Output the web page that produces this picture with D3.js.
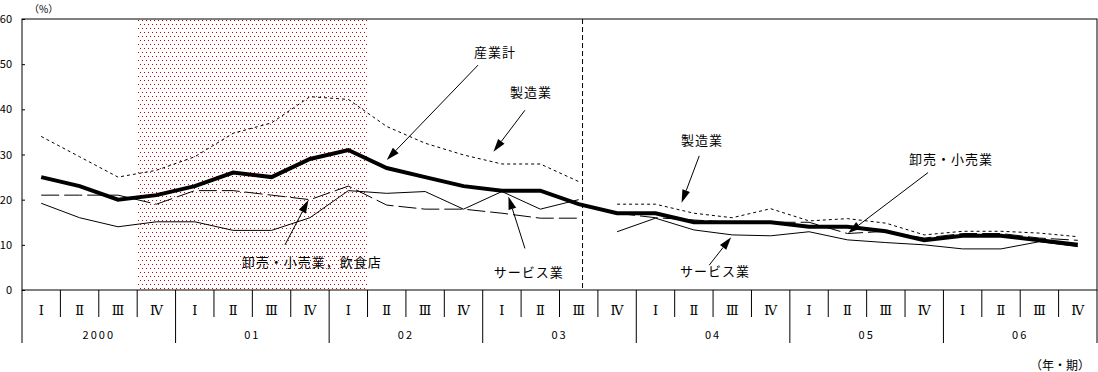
<!DOCTYPE html>
<html>
<head>
<meta charset="utf-8">
<script src="https://cdnjs.cloudflare.com/ajax/libs/d3/7.8.5/d3.min.js"></script>
<style>
  body { margin: 0; background: #fff; }
  svg text { font-family: "Noto Sans CJK JP", "Noto Sans", sans-serif; fill: #000; }
</style>
</head>
<body>
<div id="chart"></div>
<script>
// 2000年I期～2006年IV期, 四半期ごとの値 (%)
const quarterLabels = ['Ⅰ', 'Ⅱ', 'Ⅲ', 'Ⅳ'];
const yearLabels = ['2000', '01', '02', '03', '04', '05', '06'];
const yTicks = [0, 10, 20, 30, 40, 50, 60];

// 産業計 (全期間連続)
const total = [25, 23, 20, 21, 23, 26, 25, 29, 31, 27, 25, 23, 22, 22, 19,
               17, 17, 15, 15, 15, 14, 14, 13, 11, 12, 12, 11, 10];
// 製造業 (03年III期まで / 03年IV期から)
const manufOld = [34, 29.5, 25, 26.5, 29.5, 34.7, 37, 42.8, 42.2, 36.2, 32.5, 29.9, 27.9, 27.9, 24];
const manufNew = [19, 19, 17, 16, 18, 15.3, 15.8, 14.8, 12.2, 13, 13, 12.6, 11.8];
// 卸売・小売業，飲食店 (旧分類) / 卸売・小売業 (新分類)
const tradeFoodOld = [21, 21, 21, 19, 22, 22, 21, 20, 23, 18.8, 17.9, 17.9, 17, 15.9, 15.9];
const tradeNew = [17, 16, 15.5, 15, 15, 15, 12.5, 13, 11.5, 12.5, 12.5, 11.5, 11];
// サービス業
const servOld = [19.2, 16, 14, 15.1, 15.1, 13.2, 13.2, 16, 22, 21.4, 21.8, 17.9, 21.8, 17.9, 20];
const servNew = [12.9, 15.9, 13.3, 12.2, 12, 12.9, 11.1, 10.5, 10, 9.1, 9.1, 10.7, 9.6];

const breakIndex = 15;            // 新旧分類の切れ目
const shadeFrom = 3, shadeTo = 9; // 景気後退期 (2000年IV期～02年I期)

// 注記: [文字, 文字位置(四半期, 値), 矢印始点, 矢印先端]
const notes = [
  ['産業計', [12.32, 52.7], [11.88, 49.8], [9.5, 28.8]],
  ['製造業', [13.26, 43.8], [13.1, 39.8], [12.28, 30.6]],
  ['製造業', [17.71, 33.2], [17.64, 29.7], [17.18, 19.3]],
  ['卸売・小売業，飲食店', [7.55, 6.1], [6.85, 10], [7.46, 19.9]],
  ['サービス業', [13.2, 3.8], [13.1, 9.2], [12.67, 20.7]],
  ['サービス業', [18.05, 4], [17.9, 5.5], [18.47, 11.7]],
  ['卸売・小売業', [24.2, 29], [23.6, 26], [21.52, 12.6]]
];

(function() {
  const W = 1098, H = 372;
  const left = 22, right = 1097, top = 19, bottom = 290;
  const nQ = quarterLabels.length * yearLabels.length;

  const svg = d3.select('#chart').append('svg')
    .attr('width', W).attr('height', H);

  const x = d3.scaleLinear().domain([0, nQ]).range([left, right]);
  const y = d3.scaleLinear().domain([0, 60]).range([bottom, top]);

  // dotted shading pattern
  const pat = svg.append('defs').append('pattern')
    .attr('id', 'dots').attr('width', 4).attr('height', 8)
    .attr('patternUnits', 'userSpaceOnUse');
  pat.append('rect').attr('x', 0).attr('y', 0).attr('width', 1).attr('height', 1).attr('fill', '#c80000');
  pat.append('rect').attr('x', 2).attr('y', 4).attr('width', 1).attr('height', 1).attr('fill', '#c80000');

  svg.append('rect')
    .attr('x', x(shadeFrom)).attr('y', top)
    .attr('width', x(shadeTo) - x(shadeFrom)).attr('height', bottom - top)
    .attr('fill', 'url(#dots)');

  // frame
  svg.append('rect')
    .attr('x', left).attr('y', top)
    .attr('width', right - left).attr('height', bottom - top)
    .attr('fill', 'none').attr('stroke', '#000').attr('stroke-width', 1);

  // y axis
  const yAxis = svg.append('g')
    .attr('transform', `translate(${left},0)`)
    .call(d3.axisLeft(y).tickValues(yTicks).tickSize(-3).tickSizeOuter(0).tickPadding(10));
  yAxis.select('.domain').remove();
  yAxis.selectAll('line').attr('stroke', '#000');
  yAxis.selectAll('text')
    .style('font-size', '11px')
    .style('font-family', '"Noto Sans CJK JP", sans-serif');

  svg.append('text')
    .attr('x', 29).attr('y', 13)
    .style('font-size', '10px')
    .text('（%）');

  // break line
  svg.append('line')
    .attr('x1', x(breakIndex - 0.4)).attr('x2', x(breakIndex - 0.4))
    .attr('y1', top).attr('y2', bottom)
    .attr('stroke', '#000').attr('stroke-dasharray', '5,3');

  // category table below the axis
  const table = svg.append('g');
  d3.range(nQ + 1).forEach(i => {
    const isYear = i % 4 === 0;
    table.append('line')
      .attr('x1', x(i)).attr('x2', x(i))
      .attr('y1', bottom).attr('y2', isYear ? 343 : 317)
      .attr('stroke', '#000');
  });
  d3.range(nQ).forEach(i => {
    table.append('text')
      .attr('x', x(i + 0.5)).attr('y', 315)
      .attr('text-anchor', 'middle')
      .style('font-size', '13px')
      .style('font-family', '"DejaVu Serif", serif')
      .text(quarterLabels[i % 4]);
  });
  yearLabels.forEach((yr, j) => {
    table.append('text')
      .attr('x', x(j * 4 + 2)).attr('y', 339)
      .attr('text-anchor', 'middle')
      .style('font-size', '11px')
      .style('letter-spacing', '2px')
      .text(yr);
  });
  svg.append('text')
    .attr('x', 1090).attr('y', 370)
    .attr('text-anchor', 'end')
    .style('font-size', '12px')
    .text('（年・期）');

  // series
  const line = d3.line().x(d => x(d.i + 0.5)).y(d => y(d.v));
  const pts = (arr, off) => arr.map((v, k) => ({ i: k + off, v }));

  const series = [
    { data: pts(servOld, 0), w: 1, dash: null },
    { data: pts(servNew, breakIndex), w: 1, dash: null },
    { data: pts(tradeFoodOld, 0), w: 1, dash: '18,5' },
    { data: pts(tradeNew, breakIndex), w: 1, dash: '18,5' },
    { data: pts(manufOld, 0), w: 1, dash: '3,3' },
    { data: pts(manufNew, breakIndex), w: 1, dash: '3,3' },
    { data: pts(total, 0), w: 4, dash: null }
  ];

  svg.selectAll('.series')
    .data(series)
    .enter()
    .append('path')
    .attr('class', 'series')
    .attr('d', d => line(d.data))
    .attr('fill', 'none')
    .attr('stroke', '#000')
    .attr('stroke-width', d => d.w)
    .attr('stroke-dasharray', d => d.dash);

  // notes with arrows
  notes.forEach(([label, at, from, tip]) => {
    svg.append('text')
      .attr('x', x(at[0])).attr('y', y(at[1]))
      .attr('text-anchor', 'middle')
      .attr('dy', '0.35em')
      .style('font-size', '13px')
      .style('letter-spacing', '1px')
      .text(label);

    const x0 = x(from[0]), y0 = y(from[1]);
    const x1 = x(tip[0]), y1 = y(tip[1]);
    const ang = Math.atan2(y1 - y0, x1 - x0);
    const len = 13, half = 4;
    const bx = x1 - len * Math.cos(ang), by = y1 - len * Math.sin(ang);
    svg.append('line')
      .attr('x1', x0).attr('y1', y0).attr('x2', bx).attr('y2', by)
      .attr('stroke', '#000').attr('stroke-width', 1);
    svg.append('polygon')
      .attr('points', [
        [x1, y1],
        [bx + half * Math.sin(ang), by - half * Math.cos(ang)],
        [bx - half * Math.sin(ang), by + half * Math.cos(ang)]
      ].map(p => p.join(',')).join(' '))
      .attr('fill', '#000');
  });
})();
</script>
</body>
</html>
